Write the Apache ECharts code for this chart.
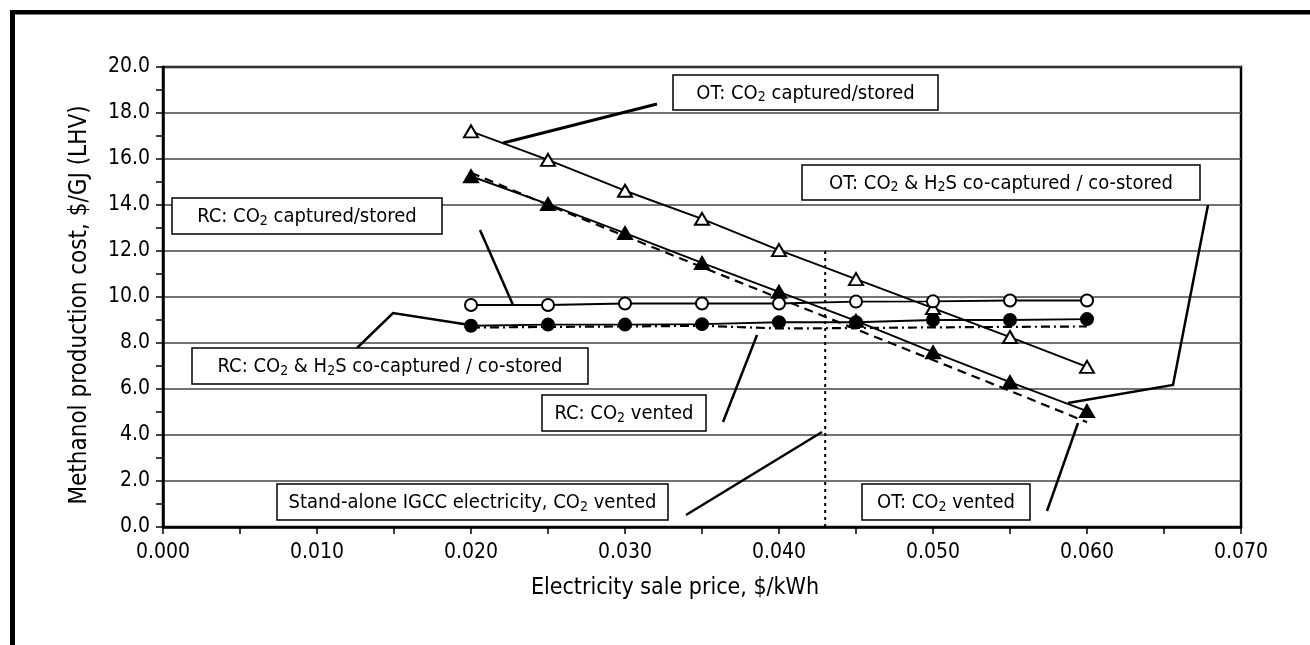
<!DOCTYPE html>
<html>
<head>
<meta charset="utf-8">
<script src="https://cdn.jsdelivr.net/npm/echarts@6/dist/echarts.min.js"></script>
<style>
html,body{margin:0;padding:0;background:#fff;}
#chart{width:1310px;height:645px;}
</style>
</head>
<body>
<div id="chart"></div>
<script>
// ---- data ----
const prices = [0.020, 0.025, 0.030, 0.035, 0.040, 0.045, 0.050, 0.055, 0.060];
const otCaptured   = [17.2, 15.96, 14.62, 13.4, 12.04, 10.78, 9.52, 8.26, 6.96];
const otCoCaptured = [15.25, 14.04, 12.78, 11.48, 10.22, 8.96, 7.6, 6.3, 5.04];
const otVented     = [15.4, 14.0, 12.65, 11.3, 9.95, 8.6, 7.26, 5.92, 4.56];
const rcCaptured   = [9.65, 9.65, 9.72, 9.72, 9.72, 9.8, 9.81, 9.85, 9.85];
const rcCoCaptured = [8.75, 8.8, 8.8, 8.82, 8.9, 8.9, 9.0, 9.0, 9.04];
const rcVented     = [8.67, 8.7, 8.72, 8.75, 8.63, 8.65, 8.68, 8.7, 8.72];
const igccPrice = 0.043;
const igccSpan = [12.0, 0.0];
const xTicks = ['0.000','0.010','0.020','0.030','0.040','0.050','0.060','0.070'];
const yTicks = ['0.0','2.0','4.0','6.0','8.0','10.0','12.0','14.0','16.0','18.0','20.0'];
const xTitle = 'Electricity sale price, $/kWh';
const yTitle = 'Methanol production cost, $/GJ (LHV)';

const FONT = '"Liberation Sans Narrow", "DejaVu Sans Condensed", "Liberation Sans", sans-serif';
const pair = arr => prices.map((p, i) => [p, arr[i]]);

function lineSeries(name, arr, lineType, symbol, fill) {
  return {
    name, type: 'line', data: pair(arr), z: 3,
    symbol: symbol || 'none',
    symbolSize: symbol === 'triangle' ? [14, 12] : 12,
    showSymbol: !!symbol,
    lineStyle: { color: '#000', width: lineType === 'solid' ? 1.9 : 2.2, type: lineType },
    itemStyle: { color: fill || '#000', borderColor: '#000', borderWidth: 2 },
    emphasis: { disabled: true }, animation: false
  };
}

// ---- annotations (boxes and leader lines) ----
const rich = {
  t: { fontFamily: FONT, fontSize: 20, color: '#000' },
  s: { fontFamily: FONT, fontSize: 14, color: '#000', verticalAlign: 'bottom', padding: [8, 0, 0, 0] }
};
function box(x, y, w, h, text) {
  return [
    { type: 'rect', shape: { x, y, width: w, height: h }, style: { fill: '#fff', stroke: '#000', lineWidth: 1.5 }, z: 10 },
    { type: 'text', x: x + w / 2, y: y + h / 2 + 1, z: 11,
      style: { text, rich, align: 'center', verticalAlign: 'middle', fill: '#000', font: '20px ' + FONT } }
  ];
}
function leader(points, w) {
  return { type: 'polyline', shape: { points }, style: { stroke: '#000', lineWidth: w || 2.5, fill: null }, z: 9 };
}

const graphics = [].concat(
  // outer frame
  [{ type: 'rect', shape: { x: 10, y: 10, width: 1300, height: 4.5 }, style: { fill: '#000' }, z: 20 },
   { type: 'rect', shape: { x: 10, y: 10, width: 5, height: 635 }, style: { fill: '#000' }, z: 20 }],
  [leader([[657,104],[503,143]], 3),
   leader([[1208,205],[1173,385],[1068,403]]),
   leader([[480,230],[513,305]]),
   leader([[357,348],[393,313],[470,325]]),
   leader([[723,422],[757,335]]),
   leader([[686,515],[822,432]]),
   leader([[1047,511],[1078,423]])],
  box(673, 75, 265, 35, '{t|OT: CO}{s|2}{t| captured/stored}'),
  box(802, 165, 398, 35, '{t|OT: CO}{s|2}{t| & H}{s|2}{t|S co-captured / co-stored}'),
  box(172, 198, 270, 36, '{t|RC: CO}{s|2}{t| captured/stored}'),
  box(192, 348, 396, 36, '{t|RC: CO}{s|2}{t| & H}{s|2}{t|S co-captured / co-stored}'),
  box(542, 395, 164, 36, '{t|RC: CO}{s|2}{t| vented}'),
  box(277, 484, 391, 36, '{t|Stand-alone IGCC electricity, CO}{s|2}{t| vented}'),
  box(862, 484, 168, 36, '{t|OT: CO}{s|2}{t| vented}'),
  [{ type: 'text', x: 675, y: 588, z: 5,
     style: { text: xTitle, font: '23px ' + FONT, fill: '#000', align: 'center', verticalAlign: 'middle' } },
   { type: 'text', x: 80, y: 305, rotation: Math.PI / 2, z: 5,
     style: { text: yTitle, font: '24px ' + FONT, fill: '#000', align: 'center', verticalAlign: 'middle' } }]
);

const chart = echarts.init(document.getElementById('chart'), null, { renderer: 'canvas' });
chart.setOption({
  animation: false,
  backgroundColor: '#fff',
  grid: { left: 163, top: 67, right: 69, bottom: 118, show: true, borderColor: '#000', borderWidth: 2.5, backgroundColor: 'transparent' },
  xAxis: {
    type: 'value', min: 0, max: 0.07, interval: 0.01,
    axisLine: { show: true, onZero: false, lineStyle: { color: '#000', width: 2.5 } },
    axisTick: { show: true, inside: false, length: 7, lineStyle: { color: '#000', width: 1.5 } },
    minorTick: { show: true, splitNumber: 2, length: 7, lineStyle: { color: '#000', width: 1.5 } },
    splitLine: { show: false },
    axisLabel: { margin: 15, fontFamily: FONT, fontSize: 21, color: '#000',
      formatter: v => xTicks[Math.round(v / 0.01)] }
  },
  yAxis: {
    type: 'value', min: 0, max: 20, interval: 2,
    axisLine: { show: true, onZero: false, lineStyle: { color: '#000', width: 2.5 } },
    axisTick: { show: true, inside: false, length: 7, lineStyle: { color: '#000', width: 1.5 } },
    minorTick: { show: true, splitNumber: 2, length: 7, lineStyle: { color: '#000', width: 1.5 } },
    splitLine: { show: true, lineStyle: { color: '#444', width: 1.5 } },
    axisLabel: { margin: 13, fontFamily: FONT, fontSize: 21, color: '#000',
      formatter: v => yTicks[Math.round(v / 2)] }
  },
  series: [
    lineSeries('OT: CO2 vented', otVented, [9, 6]),
    lineSeries('RC: CO2 vented', rcVented, [9, 4, 2, 4]),
    lineSeries('OT: CO2 captured/stored', otCaptured, 'solid', 'triangle', '#fff'),
    lineSeries('OT: CO2 & H2S co-captured / co-stored', otCoCaptured, 'solid', 'triangle', '#000'),
    lineSeries('RC: CO2 captured/stored', rcCaptured, 'solid', 'circle', '#fff'),
    lineSeries('RC: CO2 & H2S co-captured / co-stored', rcCoCaptured, 'solid', 'circle', '#000'),
    { name: 'Stand-alone IGCC electricity, CO2 vented', type: 'line', z: 2, symbol: 'none',
      data: igccSpan.map(v => [igccPrice, v]),
      lineStyle: { color: '#000', width: 2, type: [3, 4] }, emphasis: { disabled: true } }
  ],
  graphic: graphics
});
</script>
</body>
</html>
